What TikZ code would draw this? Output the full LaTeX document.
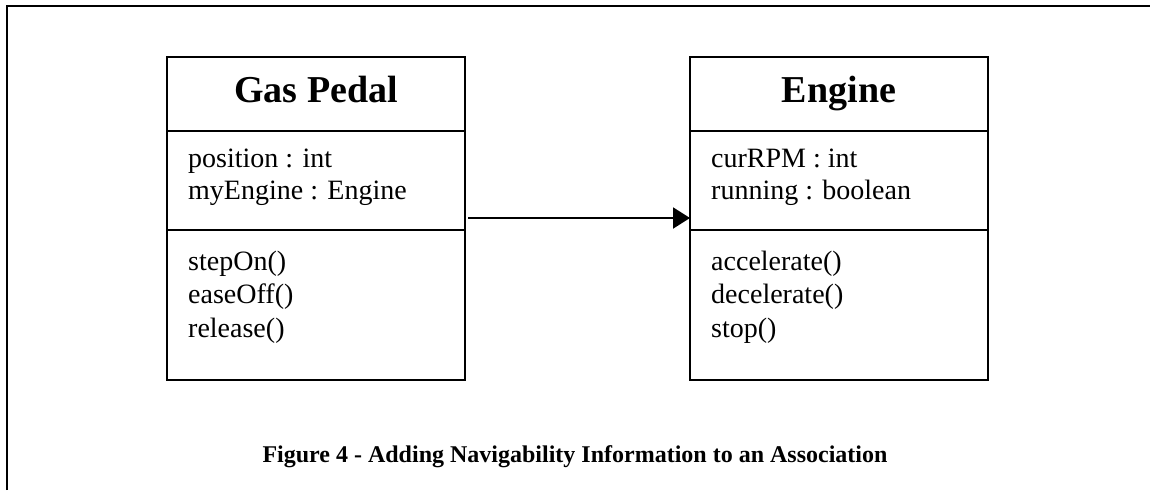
\documentclass[tikz,border=0pt]{standalone}
\usepackage{fontspec}
\setmainfont{Liberation Serif}
\usetikzlibrary{arrows.meta}
\begin{document}
\begin{tikzpicture}[x=1pt,y=1pt,
  compartment/.style={draw=black,line width=2pt,minimum width=298pt,inner sep=0pt,outer sep=0pt},
  classname/.style={font=\fontsize{38}{38}\selectfont\bfseries,inner sep=0pt,anchor=base},
  member/.style={font=\fontsize{28}{28}\selectfont,inner sep=0pt,anchor=base west},
  caption/.style={font=\fontsize{24}{24}\selectfont\bfseries,inner sep=0pt,anchor=base},
  assoc/.style={line width=2pt,-{Triangle[length=17pt,width=21pt]}}]
\useasboundingbox (0,0) rectangle (1150,-490);
% page frame (left and top edges)
\draw[line width=2pt] (7,-490) -- (7,-6) -- (1150,-6);

% class Gas Pedal
\node[compartment,minimum height=74pt]  (gpHead) at (316,-94) {};
\node[compartment,minimum height=99pt]  (gpAttr) at (316,-180.5) {};
\node[compartment,minimum height=150pt] (gpOps)  at (316,-305) {};
\node[classname] (gpName) at (316,-102) {Gas Pedal};
\node[member] (gpA1) at (188,-167) {position : int};
\node[member] (gpA2) at (188,-199) {myEngine : Engine};
\node[member] (gpM1) at (188,-270) {stepOn()};
\node[member] (gpM2) at (188,-303.5) {easeOff()};
\node[member] (gpM3) at (188,-337) {release()};

% class Engine
\node[compartment,minimum height=74pt]  (enHead) at (839,-94) {};
\node[compartment,minimum height=99pt]  (enAttr) at (839,-180.5) {};
\node[compartment,minimum height=150pt] (enOps)  at (839,-305) {};
\node[classname] (enName) at (839,-102) {Engine};
\node[member] (enA1) at (711,-167) {curRPM : int};
\node[member] (enA2) at (711,-199) {running : boolean};
\node[member] (enM1) at (711,-270) {accelerate()};
\node[member] (enM2) at (711,-303.5) {decelerate()};
\node[member] (enM3) at (711,-337) {stop()};

% navigable association
\coordinate (assocStart) at ([xshift=3pt]gpAttr.east |- 0,-218);
\draw[assoc] (assocStart) -- (enAttr.west |- assocStart);

% caption
\node[caption] (cap) at (575,-462) {Figure 4 - Adding Navigability Information to an Association};
\end{tikzpicture}
\end{document}
